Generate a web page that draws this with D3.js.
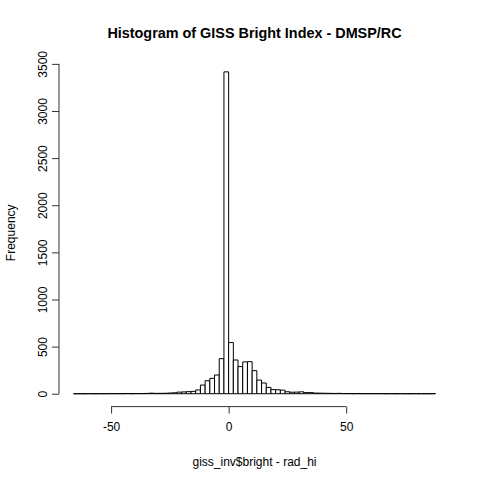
<!DOCTYPE html>
<html>
<head>
<meta charset="utf-8">
<script src="https://cdn.jsdelivr.net/npm/d3@7"></script>
<style>
  body { margin: 0; background: #fff; }
  svg text { font-family: "Liberation Sans", Arial, sans-serif; }
</style>
</head>
<body>
<div id="chart"></div>
<script>
// bin left edges (width 2) and counts
const binStart = -66, binWidth = 2;
const counts = [
  0, 0, 0, 1, 0, 1, 0, 1, 1, 1, 1, 2, 1, 2, 2, 3, 6, 4, 4, 5,
  7, 10, 17, 19, 22, 25, 40, 92, 138, 163, 199, 372, 3415, 543, 358, 288,
  338, 340, 245, 145, 114, 67, 44, 42, 38, 21, 16, 17, 20, 12, 12, 7,
  6, 5, 4, 3, 4, 2, 2, 1, 2, 1, 1, 1, 1, 1, 0, 1, 0, 1, 0, 0, 1, 0, 0, 0, 1
];
const xTicks = [-50, 0, 50];
const yTicks = [0, 500, 1000, 1500, 2000, 2500, 3000, 3500];
const title = "Histogram of GISS Bright Index - DMSP/RC";
const xLabel = "giss_inv$bright - rad_hi";
const yLabel = "Frequency";

const bins = counts.map((c, i) => ({ x0: binStart + i * binWidth, x1: binStart + (i + 1) * binWidth, n: c }));

const W = 480, H = 480;
const margin = { top: 59, right: 30, bottom: 73.4, left: 59 };

const svg = d3.select("#chart").append("svg")
  .attr("width", W).attr("height", H);

// R style 4% padding on both axes
const xMin = bins[0].x0, xMax = bins[bins.length - 1].x1;
const xPad = (xMax - xMin) * 0.04;
const x = d3.scaleLinear()
  .domain([xMin - xPad, xMax + xPad])
  .range([margin.left, W - margin.right]);

const yMax = d3.max(counts);
const y = d3.scaleLinear()
  .domain([-yMax * 0.04, yMax * 1.04])
  .range([H - margin.bottom, margin.top]);

// bars as closed paths so empty bins still leave their bottom edge
svg.append("g").selectAll("path")
  .data(bins)
  .enter().append("path")
  .attr("d", d => `M${x(d.x0)},${y(0)}V${y(d.n)}H${x(d.x1)}V${y(0)}Z`)
  .attr("fill", "white")
  .attr("stroke", "black")
  .attr("stroke-width", 1);

// x axis, R style
const xAxis = d3.axisBottom(x).tickValues(xTicks).tickSize(7).tickPadding(9).tickFormat(d3.format("d"));
const gx = svg.append("g")
  .attr("transform", `translate(0, ${H - margin.bottom})`)
  .call(xAxis);
gx.select(".domain").attr("d", `M${x(xTicks[0])},0H${x(xTicks[xTicks.length - 1])}`).attr("stroke", "#333");
gx.selectAll("line").attr("stroke", "#333");
gx.selectAll("text").attr("font-size", 12).attr("fill", "black")
  .text(d => d < 0 ? "-" + Math.abs(d) : d);

// y axis with rotated labels
const yAxis = d3.axisLeft(y).tickValues(yTicks).tickSize(7).tickFormat(d3.format("d"));
const gy = svg.append("g")
  .attr("transform", `translate(${margin.left}, 0)`)
  .call(yAxis);
gy.select(".domain").attr("d", `M0,${y(yTicks[0])}V${y(yTicks[yTicks.length - 1])}`).attr("stroke", "#333");
gy.selectAll("line").attr("stroke", "#333");
gy.selectAll("text")
  .attr("font-size", 12).attr("fill", "black")
  .attr("x", null).attr("dy", null)
  .attr("text-anchor", "middle")
  .attr("transform", "translate(-12, 0) rotate(-90)")
  .attr("y", 0);

// title and axis labels
svg.append("text")
  .attr("x", (margin.left + W - margin.right) / 2)
  .attr("y", 38)
  .attr("text-anchor", "middle")
  .attr("font-size", 14.4)
  .attr("font-weight", "bold")
  .text(title);

svg.append("text")
  .attr("x", (margin.left + W - margin.right) / 2)
  .attr("y", 466)
  .attr("text-anchor", "middle")
  .attr("font-size", 12)
  .text(xLabel);

svg.append("text")
  .attr("transform", `translate(15, ${(margin.top + H - margin.bottom) / 2}) rotate(-90)`)
  .attr("text-anchor", "middle")
  .attr("font-size", 12)
  .text(yLabel);
</script>
</body>
</html>
